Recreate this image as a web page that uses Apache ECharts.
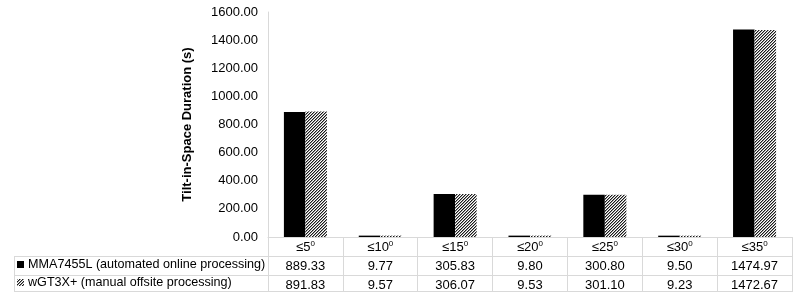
<!DOCTYPE html>
<html>
<head>
<meta charset="utf-8">
<script src="https://cdn.jsdelivr.net/npm/echarts@6/dist/echarts.min.js"></script>
<style>html,body{margin:0;padding:0;background:#fff}#c{width:800px;height:293px}</style>
</head>
<body>
<div id="c"></div>
<script>
var categories = ['5', '10', '15', '20', '25', '30', '35'];
var seriesNames = ['MMA7455L (automated online processing)', 'wGT3X+ (manual offsite processing)'];
var mmaValues = [889.33, 9.77, 305.83, 9.80, 300.80, 9.50, 1474.97];
var wgtValues = [891.83, 9.57, 306.07, 9.53, 301.10, 9.23, 1472.67];
var yTicks = [0, 200, 400, 600, 800, 1000, 1200, 1400, 1600];

var FONT = 'Liberation Sans, Arial, sans-serif';
var LINE = '#d9d9d9';
var gridLeft = 268, gridRight = 8, gridTop = 12, gridBottom = 56;
var H = 293;
var axisY = H - gridBottom;
var rowOff = [19, 38];
var tableLeft = 14, tableBottom = axisY + 55;

// hatch pattern (fine diagonal lines)
var pc = document.createElement('canvas');
pc.width = 3; pc.height = 3;
var pctx = pc.getContext('2d');
pctx.fillStyle = '#ffffff';
pctx.fillRect(0, 0, 3, 3);
for (var i = 0; i < 3; i++) {
  pctx.fillStyle = '#1a1a1a';
  pctx.fillRect(i, 2 - i, 1, 1);
  pctx.fillStyle = '#9a9a9a';
  pctx.fillRect((i + 1) % 3, 2 - i, 1, 1);
}
var hatch = { image: pc, repeat: 'repeat' };

var chart = echarts.init(document.getElementById('c'), null, { renderer: 'canvas' });

function valAxis(vals, off, margin) {
  return {
    type: 'category', data: vals.map(function (v) { return v.toFixed(2); }),
    position: 'bottom', offset: off, gridIndex: 0,
    axisLine: { show: true, lineStyle: { color: LINE, width: 1 } },
    axisTick: { show: false },
    axisLabel: { interval: 0, color: '#000', fontFamily: FONT, fontSize: 13, margin: margin },
    splitLine: { show: false }
  };
}

chart.setOption({
  animation: false,
  textStyle: { fontFamily: FONT },
  grid: { left: gridLeft, right: gridRight, top: gridTop, bottom: gridBottom, containLabel: false },
  legend: {
    orient: 'vertical', left: tableLeft + 3, top: axisY + rowOff[0] + 2,
    padding: 0, itemGap: 5, itemWidth: 7, itemHeight: 7, icon: 'rect',
    textStyle: { fontFamily: FONT, fontSize: 12.6, color: '#000', padding: [0, 0, 0, -1] },
    data: seriesNames
  },
  xAxis: [
    {
      type: 'category', data: categories, gridIndex: 0, position: 'bottom',
      axisLine: { show: true, lineStyle: { color: LINE, width: 1 } },
      axisTick: { show: true, interval: 0, length: 55, lineStyle: { color: LINE, width: 1 } },
      axisLabel: {
        interval: 0, margin: 3, color: '#000', fontFamily: FONT,
        formatter: function (v) { return '{a|≤' + v + '}{s|0}'; },
        rich: {
          a: { fontSize: 13, fontFamily: FONT, color: '#000', lineHeight: 15 },
          s: { fontSize: 8, fontFamily: FONT, color: '#000', verticalAlign: 'top', lineHeight: 8 }
        }
      }
    },
    valAxis(mmaValues, rowOff[0], 4),
    valAxis(wgtValues, rowOff[1], 4)
  ],
  yAxis: {
    type: 'value', min: yTicks[0], max: yTicks[yTicks.length - 1], interval: 200,
    name: 'Tilt-in-Space Duration (s)', nameLocation: 'middle', nameRotate: 90, nameGap: 74,
    nameTextStyle: { fontFamily: FONT, fontSize: 13, fontWeight: 'bold', color: '#000' },
    axisLine: { show: true, lineStyle: { color: LINE, width: 1 } },
    axisTick: { show: false },
    splitLine: { show: false },
    axisLabel: { color: '#000', fontFamily: FONT, fontSize: 13, margin: 10, formatter: function (v) { return v.toFixed(2); } }
  },
  series: [
    { name: seriesNames[0], type: 'bar', data: mmaValues, xAxisIndex: 0, barGap: '0%', barCategoryGap: '42.5%', itemStyle: { color: '#000' } },
    { name: seriesNames[1], type: 'bar', data: wgtValues, xAxisIndex: 0, barGap: '0%', barCategoryGap: '42.5%', itemStyle: { color: hatch } }
  ],
  graphic: [
    { type: 'line', silent: true, shape: { x1: tableLeft, y1: axisY + rowOff[0] + 0.5, x2: gridLeft, y2: axisY + rowOff[0] + 0.5 }, style: { stroke: LINE, lineWidth: 1 } },
    { type: 'line', silent: true, shape: { x1: tableLeft, y1: axisY + rowOff[1] + 0.5, x2: gridLeft, y2: axisY + rowOff[1] + 0.5 }, style: { stroke: LINE, lineWidth: 1 } },
    { type: 'line', silent: true, shape: { x1: tableLeft, y1: tableBottom - 0.5, x2: 800 - gridRight, y2: tableBottom - 0.5 }, style: { stroke: LINE, lineWidth: 1 } },
    { type: 'line', silent: true, shape: { x1: tableLeft + 0.5, y1: axisY + rowOff[0], x2: tableLeft + 0.5, y2: tableBottom }, style: { stroke: LINE, lineWidth: 1 } }
  ]
});
</script>
</body>
</html>
